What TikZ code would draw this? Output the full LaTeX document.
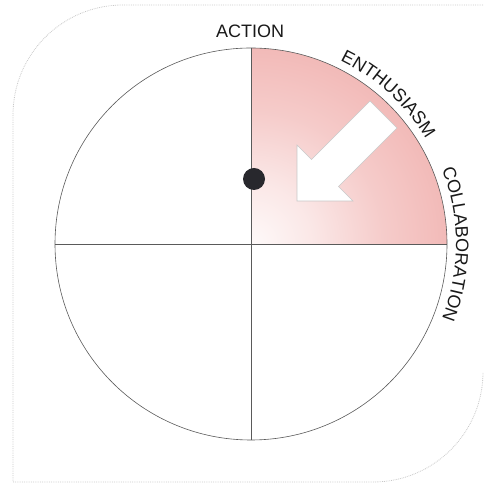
\documentclass[tikz,border=0pt]{standalone}
\usepackage{fontspec}
\setmainfont{Liberation Sans}
\usetikzlibrary{decorations.text}
\definecolor{pinkA}{RGB}{242,186,184}
\definecolor{lineg}{RGB}{90,90,90}
\definecolor{cardg}{RGB}{200,200,200}
\definecolor{dotc}{RGB}{40,40,45}
\definecolor{txt}{RGB}{25,25,25}
\pgfdeclareradialshading{pinkfade}{\pgfpoint{0bp}{0bp}}{color(0bp)=(pinkA!8); color(8bp)=(pinkA!35); color(17bp)=(pinkA!75); color(25bp)=(pinkA); color(50bp)=(pinkA)}
\tikzset{
  guide/.style={draw=lineg, line width=0.6pt},
  card/.style={draw=cardg, line width=0.8pt, densely dotted},
  bigarrow/.style={fill=white, draw=cardg, line width=0.6pt, line join=miter},
  lbl/.style={font=\fontsize{18}{18}\selectfont, text=txt},
}
\begin{document}
\begin{tikzpicture}[x=1pt,y=1pt]
\useasboundingbox (0,0) rectangle (483,489);
\coordinate (c) at (251,245);
% card outline
\draw[card] (483,484) -- (123,484) arc (90:180:110) -- (13,7) -- (373,7) arc (270:360:110);
% pink quadrant
\begin{scope}
  \clip (c) -- ++(196,0) arc (0:90:196) -- cycle;
  \shade[shading=pinkfade] (c) circle (196);
\end{scope}
% circle and cross
\path (c) ++(90:196) coordinate (n) (c) ++(270:196) coordinate (s)
      (c) ++(0:196) coordinate (e) (c) ++(180:196) coordinate (w);
\draw[guide] (c) circle (196);
\draw[guide] (n) -- (s);
\draw[guide] (w) -- (e);
% arrow
\draw[bigarrow] (370,388) -- (311.5,329.5) -- (297,344) -- (297,288) -- (353,288) -- (338.5,302.5) -- (397,361) -- cycle;
% dot
\node[circle, fill=dotc, minimum size=22pt, inner sep=0pt] (dot) at (254,310) {};
% labels
\node[lbl, anchor=base] (action) at (250,451) {ACTION};
\path (c) ++(73:204) coordinate (ea);
\path[decorate, decoration={text along path, text={|\fontsize{18}{18}\selectfont\color{txt}|ENTHUSIASM}, text align=center}] (ea) arc (73:22:204);
\path (c) ++(25:205) coordinate (ca);
\path[decorate, decoration={text along path, text={|\fontsize{18}{18}\selectfont\color{txt}|COLLABORATION}, text align=center}] (ca) arc (25:-25:205);
\end{tikzpicture}
\end{document}
